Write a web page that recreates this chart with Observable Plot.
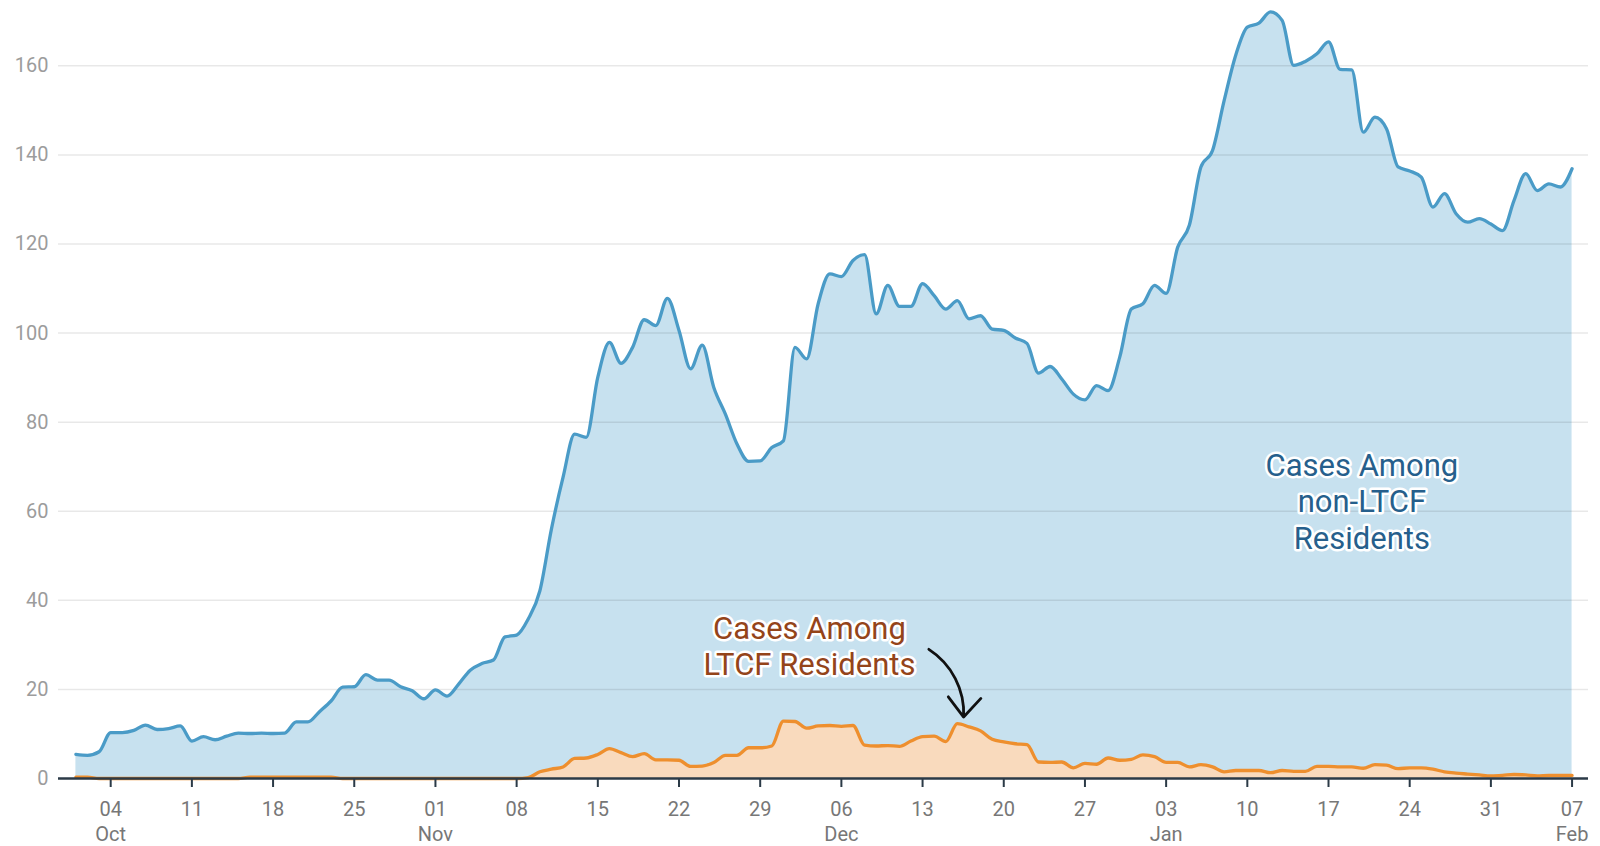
<!DOCTYPE html>
<html>
<head>
<meta charset="utf-8">
<script src="https://cdn.jsdelivr.net/npm/d3@7"></script>
<script src="https://cdn.jsdelivr.net/npm/@observablehq/plot@0.6"></script>
<style>
  html, body { margin: 0; padding: 0; background: #fff; }
  #chart svg { display: block; }
</style>
</head>
<body>
<div id="chart"></div>
<script>
// ---- Data (daily values, starting 2020-10-01) ----
const startDate = "2020-10-01";
const nonLtcfCases = [
  5.4, 5.2, 6.0, 10.3, 10.3, 10.8, 12.0, 11.0, 11.2, 11.8,
  8.4, 9.4, 8.7, 9.5, 10.2, 10.1, 10.2, 10.1, 10.2, 12.7,
  12.7, 15.0, 17.4, 20.5, 20.6, 23.3, 22.1, 22.1, 20.6, 19.7,
  17.9, 19.9, 18.5, 21.2, 24.3, 25.8, 26.6, 31.8, 32.2, 35.8,
  42.1, 56.0, 67.6, 77.3, 76.6, 90.1, 97.9, 93.2, 96.8, 103.0,
  101.7, 107.8, 100.6, 92.0, 97.3, 87.8, 81.8, 75.1, 71.2, 71.3,
  74.3, 75.8, 96.8, 94.2, 106.6, 113.3, 112.7, 116.3, 117.6, 104.3,
  110.7, 106.0, 106.0, 111.1, 108.4, 105.4, 107.3, 103.2, 103.9, 100.9,
  100.6, 98.9, 97.7, 91.0, 92.5, 89.7, 86.3, 85.0, 88.2, 87.1,
  94.6, 105.4, 106.6, 110.7, 108.9, 119.3, 124.2, 137.3, 141.0, 152.2,
  162.4, 168.7, 169.6, 172.1, 170.2, 160.1, 161.0, 162.7, 165.4, 159.2,
  159.1, 145.1, 148.5, 145.9, 137.3, 136.4, 135.0, 128.3, 131.3, 126.8,
  124.9, 125.7, 124.5, 123.0, 129.8, 135.8, 132.0, 133.5, 132.8, 136.9
];
const ltcfCases = [
  0.3, 0.3, 0, 0, 0, 0, 0, 0, 0, 0,
  0, 0, 0, 0, 0, 0.3, 0.3, 0.3, 0.3, 0.3,
  0.3, 0.3, 0.3, 0, 0, 0, 0, 0, 0, 0,
  0, 0, 0, 0, 0, 0, 0, 0, 0, 0.2,
  1.5, 2.1, 2.6, 4.5, 4.6, 5.4, 6.7, 5.8, 4.9, 5.6,
  4.2, 4.2, 4.1, 2.7, 2.8, 3.6, 5.2, 5.2, 6.9, 6.9,
  7.3, 12.9, 12.8, 11.3, 11.8, 11.9, 11.7, 11.9, 7.5, 7.3,
  7.4, 7.2, 8.4, 9.4, 9.5, 8.3, 12.3, 11.6, 10.7, 8.8,
  8.2, 7.8, 7.6, 3.7, 3.6, 3.7, 2.4, 3.4, 3.2, 4.6,
  4.1, 4.3, 5.3, 4.9, 3.6, 3.6, 2.6, 3.1, 2.6, 1.5,
  1.8, 1.8, 1.8, 1.3, 1.8, 1.6, 1.6, 2.7, 2.7, 2.6,
  2.6, 2.3, 3.1, 3.0, 2.2, 2.4, 2.4, 2.1, 1.5, 1.2,
  1.0, 0.8, 0.6, 0.7, 0.9, 0.8, 0.6, 0.7, 0.7, 0.7
];
const yTicks = [0, 20, 40, 60, 80, 100, 120, 140, 160];
const xTickDates = [
  "2020-10-04", "2020-10-11", "2020-10-18", "2020-10-25", "2020-11-01",
  "2020-11-08", "2020-11-15", "2020-11-22", "2020-11-29", "2020-12-06",
  "2020-12-13", "2020-12-20", "2020-12-27", "2021-01-03", "2021-01-10",
  "2021-01-17", "2021-01-24", "2021-01-31", "2021-02-07"
];
const labelTexts = ["Cases Among\nnon-LTCF\nResidents", "Cases Among\nLTCF Residents"];
const labelDates = ["2021-01-19T21:00Z", "2020-12-03T06:00Z"];
const labelValues = [62.4, 29.9];
const labelColors = ["#265f8c", "#94441a"];
const arrowFrom = { date: "2020-12-13T13:00Z", value: 29.0 };
const arrowTo = { date: "2020-12-16T13:00Z", value: 13.8 };

// ---- Build tables ----
const t0 = new Date(startDate + "T00:00Z");
const dayMs = 86400000;
const rows = nonLtcfCases.map((v, i) => ({
  date: new Date(t0.getTime() + i * dayMs),
  non: v,
  ltcf: ltcfCases[i]
}));
const ticks = xTickDates.map(s => new Date(s + "T00:00Z"));
const labels = labelTexts.map((t, i) => ({
  text: t, date: new Date(labelDates[i]), value: labelValues[i], color: labelColors[i]
}));
const arrows = [{
  x1: new Date(arrowFrom.date), y1: arrowFrom.value,
  x2: new Date(arrowTo.date), y2: arrowTo.value
}];

const fmtDay = d3.utcFormat("%d");
const fmtMon = d3.utcFormat("%b");

const chart = Plot.plot({
  width: 1600,
  height: 846,
  marginTop: 3,
  marginBottom: 68,
  marginLeft: 58,
  marginRight: 12,
  style: { fontFamily: "Roboto, sans-serif", background: "#fff" },
  x: {
    type: "utc",
    domain: [new Date(Date.UTC(2020, 8, 29, 12)), new Date(Date.UTC(2021, 1, 8, 10))]
  },
  y: { domain: [0, 174] },
  marks: [
    Plot.areaY(rows, { x: "date", y: "non", fill: "#c7e1ef", curve: "monotone-x" }),
    Plot.areaY(rows, { x: "date", y: "ltcf", fill: "#f9dabd", curve: "monotone-x" }),
    Plot.gridY(yTicks.filter(d => d > 0), { stroke: "#000", strokeOpacity: 0.09, strokeWidth: 1.5 }),
    Plot.lineY(rows, { x: "date", y: "non", stroke: "#4a9bc7", strokeWidth: 3.3, curve: "monotone-x" }),
    Plot.lineY(rows, { x: "date", y: "ltcf", stroke: "#ee8f2e", strokeWidth: 3.3, curve: "monotone-x" }),
    Plot.axisY(yTicks, {
      tickSize: 0, tickPadding: 10, label: null, fontSize: 20, fill: "#9c9c9c"
    }),
    Plot.axisX(ticks, {
      tickSize: 9, tickPadding: 11, label: null, fontSize: 20, fill: "#777",
      stroke: "#2b3a47", strokeWidth: 2, lineHeight: 1.25,
      tickFormat: d => d.getUTCDate() <= 7 ? fmtDay(d) + "\n" + fmtMon(d) : fmtDay(d)
    }),
    Plot.ruleY([0], { stroke: "#2b3a47", strokeWidth: 2.5 }),
    Plot.text(labels, {
      x: "date", y: "value", text: "text", fill: "color",
      fontSize: 31, fontWeight: 400, lineHeight: 1.18, stroke: "white", strokeWidth: 5,
      textAnchor: "middle", lineAnchor: "middle"
    }),
    Plot.arrow(arrows, {
      x1: "x1", y1: "y1", x2: "x2", y2: "y2",
      bend: 30, stroke: "#111", strokeWidth: 2.8, headLength: 19, headAngle: 80
    })
  ]
});

document.getElementById("chart").appendChild(chart);
</script>
</body>
</html>
